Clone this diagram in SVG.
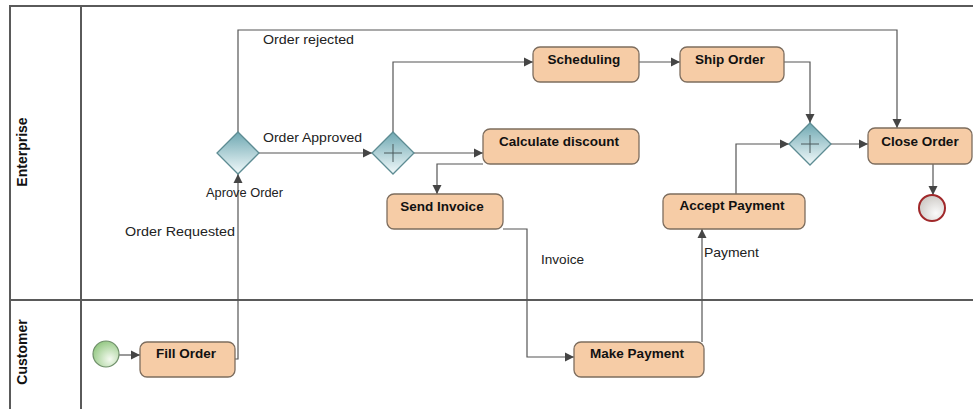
<svg xmlns="http://www.w3.org/2000/svg" width="973" height="409" viewBox="0 0 973 409">
<defs>
<marker id="arr" markerUnits="userSpaceOnUse" markerWidth="10" markerHeight="10" viewBox="0 0 10 10" refX="9" refY="5" orient="auto">
<path d="M0,0.5 L9,5 L0,9.5 z" fill="#454545"/>
</marker>
<linearGradient id="gw" x1="0" y1="0" x2="0" y2="1">
<stop offset="0" stop-color="#6fa8b2"/>
<stop offset="1" stop-color="#f2fafb"/>
</linearGradient>
<radialGradient id="gs" cx="0.65" cy="0.7" r="0.8">
<stop offset="0" stop-color="#f4faf0"/>
<stop offset="1" stop-color="#8cc47a"/>
</radialGradient>
<radialGradient id="ge" cx="0.65" cy="0.7" r="0.8">
<stop offset="0" stop-color="#fafafa"/>
<stop offset="1" stop-color="#c8c4bf"/>
</radialGradient>
</defs>
<style>
.pool{stroke:#5a5a5a;stroke-width:2;fill:none}
.lane{font-family:"Liberation Sans",Arial,sans-serif;font-weight:bold;font-size:14px;fill:#111;text-anchor:middle}
.task rect{fill:#f6cca6;stroke:#7d6d5e;stroke-width:1.3}
.task text{font-family:"Liberation Sans",Arial,sans-serif;font-weight:bold;font-size:13.5px;fill:#111;text-anchor:middle}
.gw polygon{fill:url(#gw);stroke:#5d8c93;stroke-width:1.3}
.gw path{stroke:#4a5a5d;stroke-width:1;fill:none}
.conn path{stroke:#555;stroke-width:1.2;fill:none;marker-end:url(#arr)}
.lbl{font-family:"Liberation Sans",Arial,sans-serif;font-size:13px;fill:#222}
</style>
<rect width="973" height="409" fill="#fff"/>
<g id="pool">
<path class="pool" d="M10,409 V6 H973"/>
<path class="pool" d="M81,6 V409"/>
<path class="pool" d="M10,300 H973"/>
<text class="lane" transform="translate(27,152) rotate(-90)">Enterprise</text>
<text class="lane" transform="translate(27,352) rotate(-90)">Customer</text>
</g>
<g id="connectors" class="conn">
<path d="M119,355 H140"/>
<path d="M235,359 H238 V174"/>
<path d="M259,153 H372"/>
<path d="M238,132 V30 H897 V128"/>
<path d="M393,132 V62 H533"/>
<path d="M414,153 H483"/>
<path d="M639,62 H680"/>
<path d="M784,62 H810 V123"/>
<path d="M483,164 H437 V194"/>
<path d="M503,229 H527 V357 H574"/>
<path d="M702,342 V229"/>
<path d="M736,194 V144 H789"/>
<path d="M831,144 H868"/>
<path d="M933,164 V195"/>
</g>
<g id="edge-labels">
<text class="lbl" x="263" y="44" textLength="91" lengthAdjust="spacingAndGlyphs">Order rejected</text>
<text class="lbl" x="263" y="142" textLength="99" lengthAdjust="spacingAndGlyphs">Order Approved</text>
<text class="lbl" x="125" y="236" textLength="110" lengthAdjust="spacingAndGlyphs">Order Requested</text>
<text class="lbl" x="541" y="264" textLength="43" lengthAdjust="spacingAndGlyphs">Invoice</text>
<text class="lbl" x="704" y="257" textLength="55" lengthAdjust="spacingAndGlyphs">Payment</text>
</g>
<g id="start">
<circle cx="106" cy="354" r="13" fill="url(#gs)" stroke="#6f8f6a" stroke-width="1.2"/>
</g>
<g id="fill-order" class="task">
<rect x="140" y="342" width="95" height="35" rx="7"/>
<text x="186" y="358">Fill Order</text>
</g>
<g id="aprove-order" class="gw">
<polygon points="238,132 259,153 238,174 217,153"/>
<text class="lbl" x="206" y="197" font-size="12" textLength="77" lengthAdjust="spacingAndGlyphs">Aprove Order</text>
</g>
<g id="fork" class="gw">
<polygon points="393,132 414,153 393,174 372,153"/>
<path d="M393,144 V162 M384,153 H402"/>
</g>
<g id="scheduling" class="task">
<rect x="533" y="47" width="106" height="35" rx="7"/>
<text x="584" y="64">Scheduling</text>
</g>
<g id="calculate-discount" class="task">
<rect x="483" y="129" width="156" height="35" rx="7"/>
<text x="559" y="146">Calculate discount</text>
</g>
<g id="ship-order" class="task">
<rect x="680" y="47" width="104" height="35" rx="7"/>
<text x="730" y="64">Ship Order</text>
</g>
<g id="send-invoice" class="task">
<rect x="387" y="194" width="116" height="35" rx="7"/>
<text x="442" y="211">Send Invoice</text>
</g>
<g id="join" class="gw">
<polygon points="810,123 831,144 810,165 789,144"/>
<path d="M810,135 V153 M801,144 H819"/>
</g>
<g id="close-order" class="task">
<rect x="868" y="128" width="104" height="36" rx="7"/>
<text x="920" y="146">Close Order</text>
</g>
<g id="end">
<circle cx="932" cy="208" r="13" fill="url(#ge)" stroke="#a0282a" stroke-width="2"/>
</g>
<g id="accept-payment" class="task">
<rect x="663" y="194" width="142" height="35" rx="7"/>
<text x="732" y="210">Accept Payment</text>
</g>
<g id="make-payment" class="task">
<rect x="574" y="342" width="130" height="35" rx="7"/>
<text x="637" y="358">Make Payment</text>
</g>
</svg>
